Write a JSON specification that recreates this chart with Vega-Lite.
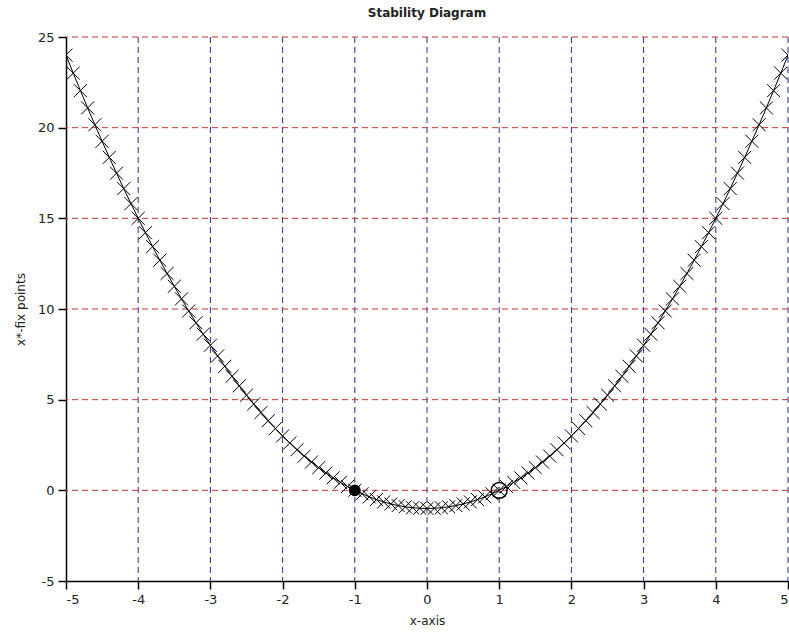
{
  "$schema": "https://vega.github.io/schema/vega-lite/v6.json",
  "width": 722,
  "height": 544,
  "autosize": "none",
  "padding": {"left": 66, "top": 37, "right": 1, "bottom": 53},
  "background": "white",
  "title": {"text": "Stability Diagram", "font": "DejaVu Sans", "fontSize": 12, "fontWeight": "bold", "color": "#222", "anchor": "middle", "offset": 11},
  "config": {"view": {"stroke": null}},
  "datasets": {
    "curve": [
      {"x": -5.0, "y": 24}, {"x": -4.9, "y": 23.01}, {"x": -4.8, "y": 22.04}, {"x": -4.7, "y": 21.09}, {"x": -4.6, "y": 20.16},
      {"x": -4.5, "y": 19.25}, {"x": -4.4, "y": 18.36}, {"x": -4.3, "y": 17.49}, {"x": -4.2, "y": 16.64}, {"x": -4.1, "y": 15.81},
      {"x": -4.0, "y": 15}, {"x": -3.9, "y": 14.21}, {"x": -3.8, "y": 13.44}, {"x": -3.7, "y": 12.69}, {"x": -3.6, "y": 11.96},
      {"x": -3.5, "y": 11.25}, {"x": -3.4, "y": 10.56}, {"x": -3.3, "y": 9.89}, {"x": -3.2, "y": 9.24}, {"x": -3.1, "y": 8.61},
      {"x": -3.0, "y": 8}, {"x": -2.9, "y": 7.41}, {"x": -2.8, "y": 6.84}, {"x": -2.7, "y": 6.29}, {"x": -2.6, "y": 5.76},
      {"x": -2.5, "y": 5.25}, {"x": -2.4, "y": 4.76}, {"x": -2.3, "y": 4.29}, {"x": -2.2, "y": 3.84}, {"x": -2.1, "y": 3.41},
      {"x": -2.0, "y": 3}, {"x": -1.9, "y": 2.61}, {"x": -1.8, "y": 2.24}, {"x": -1.7, "y": 1.89}, {"x": -1.6, "y": 1.56},
      {"x": -1.5, "y": 1.25}, {"x": -1.4, "y": 0.96}, {"x": -1.3, "y": 0.69}, {"x": -1.2, "y": 0.44}, {"x": -1.1, "y": 0.21},
      {"x": -1.0, "y": 0}, {"x": -0.9, "y": -0.19}, {"x": -0.8, "y": -0.36}, {"x": -0.7, "y": -0.51}, {"x": -0.6, "y": -0.64},
      {"x": -0.5, "y": -0.75}, {"x": -0.4, "y": -0.84}, {"x": -0.3, "y": -0.91}, {"x": -0.2, "y": -0.96}, {"x": -0.1, "y": -0.99},
      {"x": 0.0, "y": -1},
      {"x": 0.1, "y": -0.99}, {"x": 0.2, "y": -0.96}, {"x": 0.3, "y": -0.91}, {"x": 0.4, "y": -0.84}, {"x": 0.5, "y": -0.75},
      {"x": 0.6, "y": -0.64}, {"x": 0.7, "y": -0.51}, {"x": 0.8, "y": -0.36}, {"x": 0.9, "y": -0.19}, {"x": 1.0, "y": 0},
      {"x": 1.1, "y": 0.21}, {"x": 1.2, "y": 0.44}, {"x": 1.3, "y": 0.69}, {"x": 1.4, "y": 0.96}, {"x": 1.5, "y": 1.25},
      {"x": 1.6, "y": 1.56}, {"x": 1.7, "y": 1.89}, {"x": 1.8, "y": 2.24}, {"x": 1.9, "y": 2.61}, {"x": 2.0, "y": 3},
      {"x": 2.1, "y": 3.41}, {"x": 2.2, "y": 3.84}, {"x": 2.3, "y": 4.29}, {"x": 2.4, "y": 4.76}, {"x": 2.5, "y": 5.25},
      {"x": 2.6, "y": 5.76}, {"x": 2.7, "y": 6.29}, {"x": 2.8, "y": 6.84}, {"x": 2.9, "y": 7.41}, {"x": 3.0, "y": 8},
      {"x": 3.1, "y": 8.61}, {"x": 3.2, "y": 9.24}, {"x": 3.3, "y": 9.89}, {"x": 3.4, "y": 10.56}, {"x": 3.5, "y": 11.25},
      {"x": 3.6, "y": 11.96}, {"x": 3.7, "y": 12.69}, {"x": 3.8, "y": 13.44}, {"x": 3.9, "y": 14.21}, {"x": 4.0, "y": 15},
      {"x": 4.1, "y": 15.81}, {"x": 4.2, "y": 16.64}, {"x": 4.3, "y": 17.49}, {"x": 4.4, "y": 18.36}, {"x": 4.5, "y": 19.25},
      {"x": 4.6, "y": 20.16}, {"x": 4.7, "y": 21.09}, {"x": 4.8, "y": 22.04}, {"x": 4.9, "y": 23.01}, {"x": 5.0, "y": 24}
    ],
    "gridx": [{"gx": -4}, {"gx": -3}, {"gx": -2}, {"gx": -1}, {"gx": 0}, {"gx": 1}, {"gx": 2}, {"gx": 3}, {"gx": 4}, {"gx": 5}],
    "gridy": [{"gy": 0}, {"gy": 5}, {"gy": 10}, {"gy": 15}, {"gy": 20}, {"gy": 25}],
    "stable": [{"x": -1, "y": 0}],
    "unstable": [{"x": 1, "y": 0}]
  },
  "layer": [
    {
      "data": {"name": "gridx"},
      "mark": {"type": "rule", "color": "#2b2b9a", "strokeWidth": 1, "strokeDash": [6, 4]},
      "encoding": {
        "x": {"field": "gx", "type": "quantitative"}
      }
    },
    {
      "data": {"name": "gridy"},
      "mark": {"type": "rule", "color": "#c83232", "strokeWidth": 1, "strokeDash": [6, 4]},
      "encoding": {
        "y": {"field": "gy", "type": "quantitative"}
      }
    },
    {
      "data": {"name": "curve"},
      "mark": {"type": "line", "color": "black", "strokeWidth": 1, "clip": true},
      "encoding": {
        "x": {
          "field": "x", "type": "quantitative",
          "scale": {"domain": [-5, 5], "nice": false, "zero": false},
          "axis": {
            "values": [-5, -4.5, -4, -3.5, -3, -2.5, -2, -1.5, -1, -0.5, 0, 0.5, 1, 1.5, 2, 2.5, 3, 3.5, 4, 4.5, 5],
            "labelExpr": "datum.value % 1 === 0 ? (datum.value < 0 ? '-' + abs(datum.value) : '' + datum.value) : ''",
            "title": "x-axis",
            "titleFont": "DejaVu Sans", "titleFontSize": 12, "titleFontWeight": "normal", "titleColor": "#222", "titlePadding": 9,
            "labelFont": "DejaVu Sans", "labelFontSize": 13, "labelColor": "#222", "labelPadding": 4,
            "domainColor": "black", "domainWidth": 1.5,
            "tickColor": "black", "tickWidth": 1.5,
            "tickSize": {"condition": {"test": "datum.value % 1 !== 0", "value": 4}, "value": 8},
            "grid": false
          }
        },
        "y": {
          "field": "y", "type": "quantitative",
          "scale": {"domain": [-5, 25], "nice": false, "zero": false},
          "axis": {
            "values": [-5, 0, 5, 10, 15, 20, 25],
            "labelExpr": "datum.value < 0 ? '-' + abs(datum.value) : '' + datum.value",
            "title": "x*-fix points",
            "titleFont": "DejaVu Sans", "titleFontSize": 12, "titleFontWeight": "normal", "titleColor": "#222", "titlePadding": 10,
            "labelFont": "DejaVu Sans", "labelFontSize": 13, "labelColor": "#222", "labelPadding": 4,
            "domainColor": "black", "domainWidth": 1.5,
            "tickColor": "black", "tickWidth": 1.5, "tickSize": 8,
            "grid": false
          }
        }
      }
    },
    {
      "data": {"name": "curve"},
      "mark": {"type": "point", "shape": "M-1,-1L1,1M-1,1L1,-1", "size": 170, "color": "black", "strokeWidth": 1, "filled": false, "opacity": 1, "clip": true},
      "encoding": {
        "x": {"field": "x", "type": "quantitative"},
        "y": {"field": "y", "type": "quantitative"}
      }
    },
    {
      "data": {"name": "stable"},
      "mark": {"type": "point", "shape": "circle", "size": 140, "filled": true, "color": "black", "opacity": 1},
      "encoding": {
        "x": {"field": "x", "type": "quantitative"},
        "y": {"field": "y", "type": "quantitative"}
      }
    },
    {
      "data": {"name": "unstable"},
      "mark": {"type": "point", "shape": "circle", "size": 250, "filled": false, "color": "black", "strokeWidth": 1.5, "opacity": 1},
      "encoding": {
        "x": {"field": "x", "type": "quantitative"},
        "y": {"field": "y", "type": "quantitative"}
      }
    }
  ]
}
